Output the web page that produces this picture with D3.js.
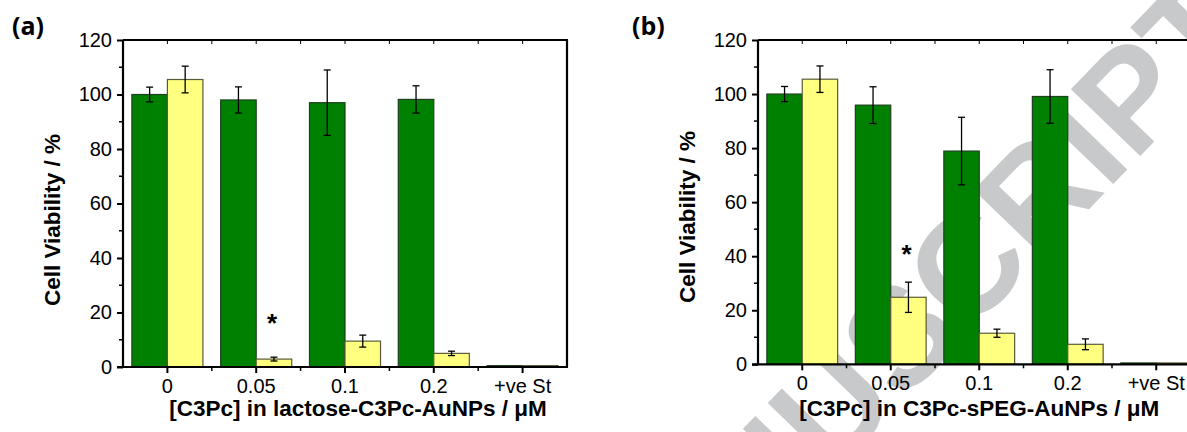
<!DOCTYPE html>
<html>
<head>
<meta charset="utf-8">
<script src="https://cdn.jsdelivr.net/npm/d3@7"></script>
<style>
    html, body { margin: 0; padding: 0; background: #ffffff; }
    svg text { font-family: "Liberation Sans", Arial, sans-serif; }
</style>
</head>
<body>
<svg id="chart" width="1187" height="432"></svg>
<script>
// 浓度类别
const categories = ['0', '0.05', '0.1', '0.2', '+ve St'];
const seriesNames = ['dark', 'light'];
const yTicks = [0, 20, 40, 60, 80, 100, 120];

// (a) lactose-C3Pc-AuNPs
const darkA = [100, 98, 97, 98.2, 0.5];
const darkErrA = [2.7, 4.8, 12, 5, 0.2];
const lightA = [105.5, 2.9, 9.5, 5, 0.5];
const lightErrA = [4.9, 0.7, 2.2, 0.8, 0.2];
const starA = [{ cat: '0.05', value: 15.5 }];

// (b) C3Pc-sPEG-AuNPs
const darkB = [100, 95.9, 78.9, 99.1, 0.5];
const darkErrB = [2.8, 6.8, 12.5, 9.9, 0.2];
const lightB = [105.5, 24.8, 11.5, 7.4, 0.5];
const lightErrB = [4.9, 5.6, 1.5, 2, 0.2];
const starB = [{ cat: '0.05', value: 40 }];

const svg = d3.select('#chart');

// 水印 (放在最底层)
svg.append('text')
    .attr('transform', 'translate(1258,34) rotate(-46)')
    .attr('text-anchor', 'end')
    .style('font-size', '140px')
    .style('font-weight', 'bold')
    .style('fill', '#c8c9ca')
    .text('MANUSCRIPT');

const colors = { dark: '#008000', light: '#ffff80' };
const strokes = { dark: '#1f3f1f', light: '#5a5a3a' };

/**
 * 绘制一个面板
 */
const renderPanel = (p) => {
    const g = svg.append('g');
    const x = d3.scaleBand().domain(categories)
        .range([p.left, p.right]).paddingInner(0.2).paddingOuter(0.1);
    const xs = d3.scaleBand().domain(seriesNames).range([0, x.bandwidth()]);
    const y = d3.scaleLinear().domain([0, 120]).range([p.bottom, p.top]);
    const step = x.step();

    const rows = [];
    categories.forEach((c, i) => {
        rows.push({ cat: c, s: 'dark', v: p.dark[i], e: p.darkErr[i] });
        rows.push({ cat: c, s: 'light', v: p.light[i], e: p.lightErr[i] });
    });

    // 柱子
    g.selectAll('rect.bar')
        .data(rows)
        .enter()
        .append('rect')
        .attr('class', 'bar')
        .attr('x', (d) => x(d.cat) + xs(d.s))
        .attr('y', (d) => y(d.v))
        .attr('width', xs.bandwidth())
        .attr('height', (d) => y(0) - y(d.v))
        .attr('fill', (d) => colors[d.s])
        .attr('stroke', (d) => strokes[d.s])
        .attr('stroke-width', 1.2);

    // 误差线
    const cx = (d) => x(d.cat) + xs(d.s) + xs.bandwidth() / 2;
    const eb = g.selectAll('g.err').data(rows.filter((d) => d.v > 1)).enter().append('g')
        .attr('stroke', '#000').attr('stroke-width', 1.3);
    eb.append('line')
        .attr('x1', cx).attr('x2', cx)
        .attr('y1', (d) => y(d.v + d.e)).attr('y2', (d) => y(d.v - d.e));
    eb.append('line')
        .attr('x1', (d) => cx(d) - 3.5).attr('x2', (d) => cx(d) + 3.5)
        .attr('y1', (d) => y(d.v + d.e)).attr('y2', (d) => y(d.v + d.e));
    eb.append('line')
        .attr('x1', (d) => cx(d) - 3.5).attr('x2', (d) => cx(d) + 3.5)
        .attr('y1', (d) => y(d.v - d.e)).attr('y2', (d) => y(d.v - d.e));

    // 星号
    g.selectAll('text.star').data(p.star).enter().append('text')
        .attr('x', (d) => x(d.cat) + xs('light') + xs.bandwidth() / 2 - 2)
        .attr('y', (d) => y(d.value))
        .attr('text-anchor', 'middle')
        .attr('dominant-baseline', 'middle')
        .style('font-size', '26px')
        .style('font-weight', 'bold')
        .text('*');

    // 框线
    const frame = g.append('g').attr('stroke', '#000').attr('fill', 'none');
    frame.append('line').attr('x1', p.left).attr('x2', p.right + 1)
        .attr('y1', p.top).attr('y2', p.top).attr('stroke-width', 2.2);
    frame.append('line').attr('x1', p.right).attr('x2', p.right)
        .attr('y1', p.top).attr('y2', p.bottom).attr('stroke-width', 2.2);

    // 小刻度位置 (类别边界)
    const minorX = d3.range(1, categories.length).map((i) => p.left + i * step);
    const majorX = categories.map((c) => x(c) + x.bandwidth() / 2);
    frame.selectAll('line.tt').data(majorX.concat(minorX)).enter().append('line')
        .attr('x1', (d) => d).attr('x2', (d) => d)
        .attr('y1', p.top).attr('y2', p.top + 4).attr('stroke-width', 1);

    // x 轴
    const xAxis = g.append('g').attr('transform', `translate(0,${p.bottom})`)
        .call(d3.axisBottom(x).tickSize(6).tickPadding(6));
    xAxis.select('.domain').attr('d', `M${p.left - 6},0H${p.right + 1}`).attr('stroke-width', 2.2);
    xAxis.selectAll('.tick line').attr('stroke-width', 2);
    xAxis.selectAll('.tick text').style('font-size', '20px').attr('fill', '#000');
    xAxis.selectAll('line.minor').data(minorX).enter().append('line')
        .attr('class', 'minor').attr('stroke', '#000').attr('stroke-width', 1.5)
        .attr('x1', (d) => d).attr('x2', (d) => d).attr('y1', 0).attr('y2', 4);

    // y 轴
    const yAxis = g.append('g').attr('transform', `translate(${p.left},0)`)
        .call(d3.axisLeft(y).tickValues(yTicks).tickSize(6).tickPadding(5));
    yAxis.select('.domain').attr('d', `M0,${p.bottom}V${p.top}`).attr('stroke-width', 2.2);
    yAxis.selectAll('.tick line').attr('stroke-width', 2);
    yAxis.selectAll('.tick text').style('font-size', '20px').attr('fill', '#000');
    yAxis.selectAll('line.minor').data(d3.range(10, 120, 20)).enter().append('line')
        .attr('class', 'minor').attr('stroke', '#000').attr('stroke-width', 1.5)
        .attr('x1', -4).attr('x2', 0).attr('y1', (d) => y(d)).attr('y2', (d) => y(d));

    // 标题
    g.append('text')
        .attr('transform', `translate(${p.yTitleX},${p.yTitleY}) rotate(-90)`)
        .attr('text-anchor', 'middle')
        .style('font-size', '22.5px').style('font-weight', 'bold')
        .text('Cell Viability / %');
    g.append('text')
        .attr('x', (p.left + p.right) / 2 + p.xTitleDx).attr('y', 416)
        .attr('text-anchor', 'middle')
        .style('font-size', '22.5px').style('font-weight', 'bold')
        .text(p.xTitle);
    g.append('text')
        .attr('x', p.labelX).attr('y', 35)
        .style('font-family', '"Open Sans", sans-serif')
        .style('font-size', '25px').style('font-weight', 'bold')
        .text(p.label);
};

renderPanel({
    left: 123, right: 567, top: 40, bottom: 367,
    dark: darkA, darkErr: darkErrA, light: lightA, lightErr: lightErrA, star: starA,
    xTitle: '[C3Pc] in lactose-C3Pc-AuNPs / μM', xTitleDx: 13,
    yTitleX: 60, yTitleY: 220, label: '(a)', labelX: 12,
});
renderPanel({
    left: 758, right: 1200.5, top: 40, bottom: 364.3,
    dark: darkB, darkErr: darkErrB, light: lightB, lightErr: lightErrB, star: starB,
    xTitle: '[C3Pc] in C3Pc-sPEG-AuNPs / μM', xTitleDx: 0,
    yTitleX: 695, yTitleY: 217, label: '(b)', labelX: 632,
});
</script>
</body>
</html>
